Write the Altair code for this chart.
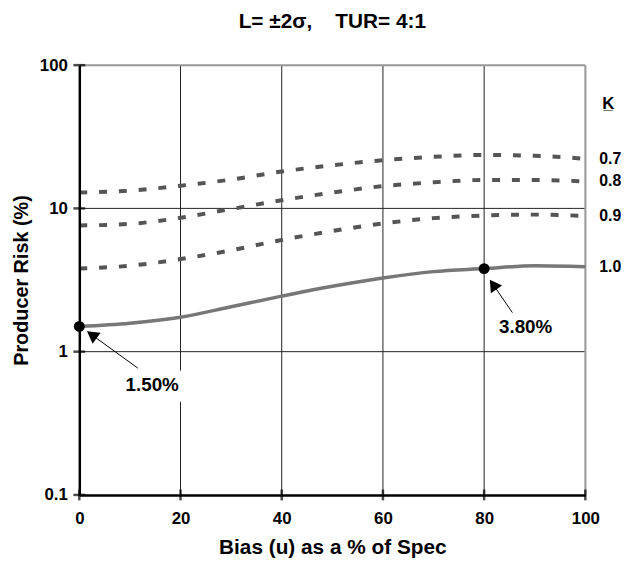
import altair as alt
import pandas as pd

FONT = "Liberation Sans"

# ---- data ----
bias = [0, 10, 20, 30, 40, 50, 60, 70, 80, 90, 100]
risk_k07 = [12.9, 13.3, 14.4, 15.9, 18.1, 20.0, 21.7, 22.9, 23.6, 23.3, 22.2]
risk_k08 = [7.6, 7.8, 8.6, 9.9, 11.4, 12.9, 14.3, 15.2, 15.8, 15.8, 15.4]
risk_k09 = [3.81, 3.98, 4.43, 5.1, 6.02, 6.95, 7.85, 8.55, 8.92, 9.05, 8.86]
risk_k10 = [1.50, 1.58, 1.74, 2.06, 2.44, 2.86, 3.27, 3.62, 3.80, 3.98, 3.92]
k_labels = ["0.7", "0.8", "0.9", "1.0"]

x_ticks = [0, 20, 40, 60, 80, 100]
y_ticks = [0.1, 1, 10, 100]
x_grid = [20, 40, 60, 80]
y_grid = [1, 10]

dot_bias = [0, 80]
dot_risk = [1.5, 3.8]
note_text = ["1.50%", "3.80%"]
note_bias = [14.4, 88.2]
note_risk = [0.589, 1.49]
arrow_tail_bias = [11.55, 85.58]
arrow_tail_risk = [0.768, 1.873]
arrow_head_bias = [2.47, 81.78]
arrow_head_risk = [1.311, 2.94]
arrow_angle = [305.8, 325.5]

# ---- tables ----
series = {"0.7": risk_k07, "0.8": risk_k08, "0.9": risk_k09, "1.0": risk_k10}
rows = []
for k, vals in series.items():
    for b, v in zip(bias, vals):
        rows.append({"bias": b, "risk": v, "k": k})
curves = pd.DataFrame(rows)
dashed = curves[curves["k"] != "1.0"]
solid = curves[curves["k"] == "1.0"]

end_labels = pd.DataFrame({"bias": [bias[-1]] * 4,
                           "risk": [series[k][-1] for k in k_labels],
                           "label": k_labels})
k_head = pd.DataFrame({"bias": [100], "risk": [53.3], "label": ["K\u0332"]})

xscale = alt.Scale(domain=[0, 100], nice=False, zero=False)
yscale = alt.Scale(type="log", domain=[0.1, 100], nice=False)

xaxis = alt.Axis(values=x_ticks, format="d", ticks=False, tickSize=0, grid=False,
                 labelFlush=False, domainColor="black", domainWidth=2.5,
                 labelFont=FONT, labelFontSize=17, labelFontWeight="bold",
                 labelColor="black", labelPadding=16, titleFont=FONT,
                 titleFontSize=21, titleFontWeight="bold", titleColor="black",
                 titlePadding=10, zindex=1)
yaxis = alt.Axis(values=y_ticks, format="~g", ticks=False, tickSize=0, grid=False,
                 labelFlush=False, domainColor="black", domainWidth=2.5,
                 labelFont=FONT, labelFontSize=17, labelFontWeight="bold",
                 labelColor="black", labelPadding=12, titleFont=FONT,
                 titleFontSize=20, titleFontWeight="bold", titleColor="black",
                 titlePadding=8, zindex=1)
XT = "Bias (u) as a % of Spec"
YT = "Producer Risk (%)"


def X(f="bias"):
    return alt.X(f"{f}:Q", scale=xscale, axis=xaxis, title=XT)


def Y(f="risk"):
    return alt.Y(f"{f}:Q", scale=yscale, axis=yaxis, title=YT)


vgrid = alt.Chart(pd.DataFrame({"bias": x_grid})).mark_rule(
    color="#222", strokeWidth=1).encode(x=X())
hgrid = alt.Chart(pd.DataFrame({"risk": y_grid})).mark_rule(
    color="#222", strokeWidth=1).encode(y=Y())
vborder = alt.Chart(pd.DataFrame({"bias": [x_ticks[-1]]})).mark_rule(
    color="#999", strokeWidth=2).encode(x=X())
hborder = alt.Chart(pd.DataFrame({"risk": [y_ticks[-1]]})).mark_rule(
    color="#999", strokeWidth=2).encode(y=Y())

note_bg = alt.Chart(pd.DataFrame({"bias": [8.5], "bias2": [21.0],
                                  "risk": [0.447], "risk2": [0.739]})).mark_rect(
    color="white").encode(x=X(), x2="bias2:Q", y=Y(), y2="risk2:Q")

dash_lines = alt.Chart(dashed).mark_line(
    color="#555", strokeWidth=4, strokeDash=[8, 12], interpolate="monotone").encode(
    x=X(), y=Y(), detail="k:N")
solid_line = alt.Chart(solid).mark_line(
    color="#777", strokeWidth=3.5, interpolate="monotone").encode(x=X(), y=Y())

xt = alt.Chart(pd.DataFrame({"bias": x_ticks, "risk": [y_ticks[0]] * len(x_ticks)})).mark_tick(
    orient="vertical", size=11, thickness=2.5, color="black").encode(x=X(), y=Y())
yt = alt.Chart(pd.DataFrame({"risk": y_ticks, "bias": [x_ticks[0]] * len(y_ticks)})).mark_tick(
    orient="horizontal", size=12, thickness=2.5, color="black").encode(x=X(), y=Y())

arrows = alt.Chart(pd.DataFrame({"bias": arrow_tail_bias, "risk": arrow_tail_risk,
                                 "bias2": arrow_head_bias, "risk2": arrow_head_risk})).mark_rule(
    color="black", strokeWidth=1).encode(x=X(), y=Y(), x2="bias2:Q", y2="risk2:Q")
heads = alt.Chart(pd.DataFrame({"bias": arrow_head_bias, "risk": arrow_head_risk,
                                "angle": arrow_angle})).mark_point(
    shape="triangle-up", filled=True, size=190, color="black", opacity=1).encode(
    x=X(), y=Y(), angle=alt.Angle("angle:Q", scale=None))
dots = alt.Chart(pd.DataFrame({"bias": dot_bias, "risk": dot_risk})).mark_circle(
    size=120, color="black", opacity=1).encode(x=X(), y=Y())

notes = alt.Chart(pd.DataFrame({"bias": note_bias, "risk": note_risk, "label": note_text})).mark_text(
    font=FONT, fontSize=19, fontWeight="bold", color="black", align="center",
    baseline="middle").encode(x=X(), y=Y(), text="label:N")
klabels = alt.Chart(end_labels).mark_text(
    font=FONT, fontSize=16, fontWeight="bold", color="black", align="left",
    baseline="middle", dx=14).encode(x=X(), y=Y(), text="label:N")
khead = alt.Chart(k_head).mark_text(
    font=FONT, fontSize=17, fontWeight="bold", color="black", align="left",
    baseline="middle", dx=17).encode(x=X(), y=Y(), text="label:N")

chart = alt.layer(
    vgrid, hgrid, vborder, hborder, note_bg, dash_lines, solid_line,
    xt, yt, arrows, heads, dots, notes, klabels, khead
).properties(
    width=511, height=434,
    title=alt.Title("L= \u00b12\u03c3,\u00a0\u00a0\u00a0 TUR= 4:1", font=FONT,
                    fontSize=21, fontWeight="bold", color="black", anchor="middle",
                    offset=25),
    autosize=alt.AutoSizeParams(type="none"),
    padding={"left": 72, "top": 55, "right": 36, "bottom": 62},
).configure_view(stroke=None).configure(background="white")

chart.save("out.html", embed_options={"renderer": "svg", "actions": False})
